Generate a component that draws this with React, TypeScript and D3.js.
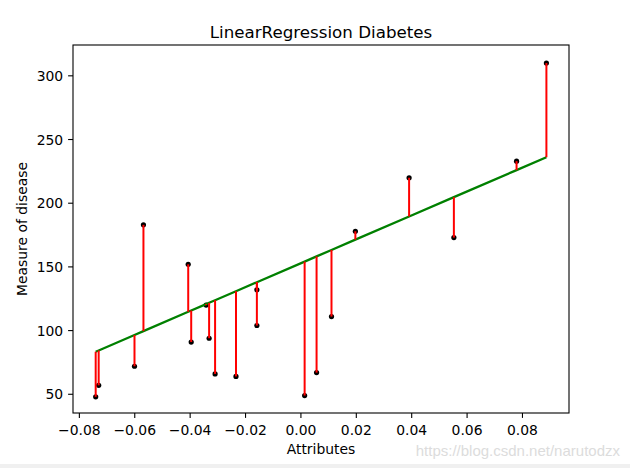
import React from "react";
import * as d3 from "d3";

const bmi = [0.07786339, -0.03961813, 0.01103904, -0.04069594, -0.03422907, 0.00564998, 0.08864151, -0.03315126, -0.05686312, -0.03099563, 0.05522933, -0.06009656, 0.00133873, -0.02345095, -0.07410811, 0.01966154, -0.01590626, -0.01590626, 0.03906215, -0.0730303];
const disease = [233, 91, 111, 152, 120, 67, 310, 94, 183, 66, 173, 72, 49, 64, 48, 178, 104, 132, 220, 57];
const predicted = [225.97, 115.75, 163.28, 114.74, 120.81, 158.22, 236.09, 121.82, 99.57, 123.84, 204.74, 96.53, 154.17, 130.92, 83.39, 171.37, 137.99, 137.99, 189.56, 84.41];
const xTicks = [-0.08, -0.06, -0.04, -0.02, 0.0, 0.02, 0.04, 0.06, 0.08];
const yTicks = [50, 100, 150, 200, 250, 300];

const W = 630, H = 468;
const L = 73, R = 569, T = 45, B = 413;
const FONT = "'DejaVu Sans', sans-serif";

export default function App() {
  const x = d3.scaleLinear().domain([-0.0823, 0.0968]).range([L, R]);
  const y = d3.scaleLinear().domain([35.3, 324.2]).range([B, T]);
  const fmt = (v: number) => {
    const s = Math.abs(v).toFixed(2);
    return (v < -1e-9 ? "\u2212" : "") + s;
  };
  const pairs = bmi.map((b, i) => ({ b, p: predicted[i] })).sort((a, c) => a.b - c.b);
  const line = d3.line<{ b: number; p: number }>().x(d => x(d.b)).y(d => y(d.p));
  return (
    <svg width={W} height={H} style={{ position: "absolute", left: 0, top: 0, background: "#fff" }} fontFamily={FONT}>
      <rect x={0} y={0} width={W} height={H} fill="#fff" />
      <text x={(L + R) / 2} y={38} textAnchor="middle" fontSize={16.7} fill="#000">LinearRegression Diabetes</text>
      {bmi.map((b, i) => (
        <circle key={"c" + i} cx={x(b)} cy={y(disease[i])} r={2.6} fill="#000" />
      ))}
      <path d={line(pairs) || ""} fill="none" stroke="#008000" strokeWidth={2.3} />
      {bmi.map((b, i) => (
        <line key={"v" + i} x1={x(b)} x2={x(b)} y1={y(disease[i])} y2={y(predicted[i])} stroke="#ff0000" strokeWidth={2} />
      ))}
      <rect x={L} y={T} width={R - L} height={B - T} fill="none" stroke="#000" strokeWidth={1.1} />
      {xTicks.map(t => (
        <g key={"x" + t}>
          <line x1={x(t)} x2={x(t)} y1={B} y2={B + 4.9} stroke="#000" strokeWidth={1.1} />
          <text x={x(t)} y={B + 22} textAnchor="middle" fontSize={13.9} fill="#000">{fmt(t)}</text>
        </g>
      ))}
      {yTicks.map(t => (
        <g key={"y" + t}>
          <line x1={L - 4.9} x2={L} y1={y(t)} y2={y(t)} stroke="#000" strokeWidth={1.1} />
          <text x={L - 9.8} y={y(t) + 5} textAnchor="end" fontSize={13.9} fill="#000">{t}</text>
        </g>
      ))}
      <text x={(L + R) / 2} y={454} textAnchor="middle" fontSize={13.9} fill="#000">Attributes</text>
      <text transform={`translate(27,${(T + B) / 2}) rotate(-90)`} textAnchor="middle" fontSize={13.9} fill="#000">Measure of disease</text>
      <text x={620} y={456} textAnchor="end" fontSize={15} fontFamily="'Liberation Sans', Arial, sans-serif" fill="#dcdcdc">https://blog.csdn.net/narutodzx</text>
      <rect x={0} y={464} width={W} height={4} fill="#f0f0f0" />
    </svg>
  );
}
